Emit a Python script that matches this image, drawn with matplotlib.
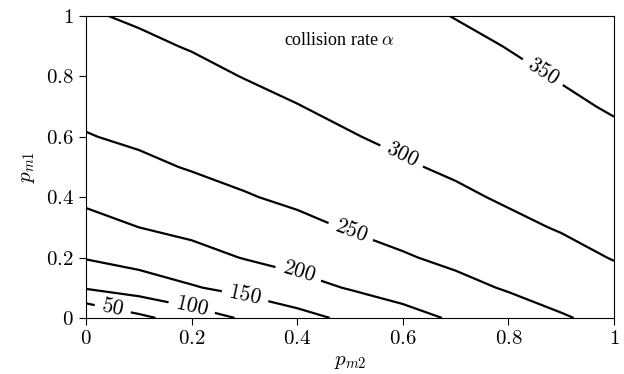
import numpy as np
import matplotlib
matplotlib.use("Agg")
import matplotlib.pyplot as plt

plt.rcParams['mathtext.fontset'] = 'cm'
plt.rcParams['font.family'] = ['Liberation Serif', 'DejaVu Serif']

# grid coordinates
p_m2 = [0.0, 0.1, 0.2, 0.3, 0.4, 0.5, 0.6, 0.7, 0.8, 0.9, 1.0]
p_m1 = [0.0, 0.1, 0.2, 0.3, 0.4, 0.5, 0.6, 0.7, 0.8, 0.9, 1.0]

# collision rate alpha, rows = p_m1, columns = p_m2
alpha_y00 = [0, 39, 74, 106, 134, 160, 183, 206, 226, 246, 263]
alpha_y01 = [104, 124, 146, 165, 184, 203, 220, 237, 254, 269, 284]
alpha_y02 = [153, 168, 184, 202, 216, 231, 246, 260, 274, 287, 302]
alpha_y03 = [184, 200, 212, 225, 239, 253, 265, 278, 291, 303, 314]
alpha_y04 = [209, 221, 233, 247, 258, 269, 281, 293, 305, 314, 325]
alpha_y05 = [228, 241, 253, 262, 273, 284, 296, 306, 315, 325, 335]
alpha_y06 = [248, 257, 266, 276, 287, 298, 307, 316, 325, 334, 344]
alpha_y07 = [260, 269, 279, 289, 299, 308, 316, 325, 334, 344, 353]
alpha_y08 = [272, 281, 291, 301, 309, 317, 325, 334, 343, 352, 360]
alpha_y09 = [285, 294, 302, 309, 317, 325, 333, 342, 351, 358, 366]
alpha_y10 = [297, 304, 310, 317, 325, 333, 342, 351, 357, 365, 372]

levels = [50, 100, 150, 200, 250, 300, 350]
xticks = [0, 0.2, 0.4, 0.6, 0.8, 1]
xtick_labels = ['0', '0.2', '0.4', '0.6', '0.8', '1']
yticks = [0, 0.2, 0.4, 0.6, 0.8, 1]
ytick_labels = ['0', '0.2', '0.4', '0.6', '0.8', '1']

Z = np.array([alpha_y00, alpha_y01, alpha_y02, alpha_y03, alpha_y04, alpha_y05,
              alpha_y06, alpha_y07, alpha_y08, alpha_y09, alpha_y10], dtype=float)
X, Y = np.meshgrid(p_m2, p_m1)

fig = plt.figure(figsize=(6.24, 3.74), dpi=100)
ax = fig.add_axes([0.138, 0.150, 0.846, 0.807])

cs = ax.contour(X, Y, Z, levels=levels, colors='black', linewidths=1.6)
label_pos = [(0.05, 0.026), (0.2, 0.034), (0.30, 0.065), (0.40, 0.137),
             (0.50, 0.28), (0.60, 0.545), (0.86, 0.80)]
ax.clabel(cs, levels, inline=True, fmt=lambda v: r'$%d$' % v, fontsize=15.5,
          manual=label_pos, inline_spacing=7)

ax.set_xlim(0, 1)
ax.set_ylim(0, 1)
ax.set_xticks(xticks)
ax.set_xticklabels(['$%s$' % t for t in xtick_labels])
ax.set_yticks(yticks)
ax.set_yticklabels(['$%s$' % t for t in ytick_labels])
ax.tick_params(direction='out', length=5, width=0.8, labelsize=15, colors='black',
               top=False, right=False, pad=4)
for s in ax.spines.values():
    s.set_linewidth(0.8)
ax.set_xlabel(r'$p_{m2}$', fontsize=15, labelpad=2)
ax.set_ylabel(r'$p_{m1}$', fontsize=15, labelpad=6)
ax.text(0.48, 0.92, r'collision rate $\alpha$', fontsize=13, ha='center', va='center')

fig.savefig('out.png', dpi=100)
